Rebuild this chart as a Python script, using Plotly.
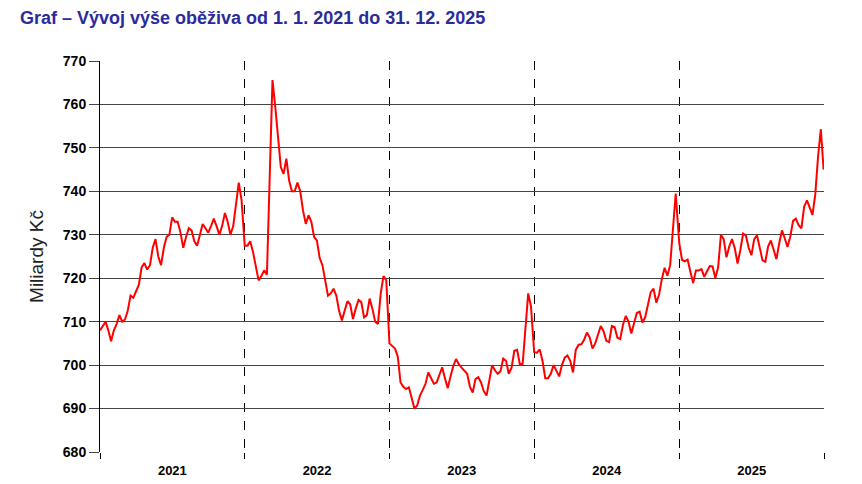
#!/usr/bin/python3
# -*- coding: utf-8 -*-

import pandas as pd
import plotly.graph_objs as go

# weekly readings of currency in circulation (bn CZK), one list per year
years = [2021, 2022, 2023, 2024, 2025]

values_2021 = [708, 709, 710, 708, 705.5, 708, 709.5, 711.5, 710, 710.5, 712.5, 716, 715.5, 717, 718.5, 722.5,
               723.5, 722, 723, 727, 729, 725, 723, 727, 729.5, 730, 734, 733, 733, 730.5, 727, 729.5, 731.5, 731,
               728.5, 727.5, 730, 732.5, 731.5, 730.5, 732, 733.7, 732, 730, 732, 735, 733, 730, 732, 737.5, 742,
               738]
values_2022 = [727.5, 727.5, 728.5, 726, 722.5, 719.5, 720.5, 721.8, 720.8, 742, 765.6, 759.5, 752, 745.6, 744,
               747.5, 742.5, 740, 740, 742, 740, 735.6, 732.5, 734.5, 733, 729.5, 728.7, 724.7, 723, 719.5, 716,
               716.5, 717.6, 716, 712.5, 710.3, 712.8, 714.7, 714, 710.6, 713, 715, 714.5, 711, 711.5, 715.3, 713,
               710, 709.5, 716.5, 720.5, 719.5]
values_2023 = [705, 704.5, 703.8, 702, 696, 695, 694.5, 694.9, 692.3, 690, 690.7, 693, 694.3, 695.7, 698.3, 697,
               695.7, 696, 697.8, 699.5, 697, 694.7, 697.4, 699.8, 701.4, 700.2, 699.4, 698.8, 698, 695, 693.7,
               696.8, 697.2, 696, 694, 693, 696.5, 700, 698.8, 698, 698.6, 701.5, 701, 698, 699.4, 703.3, 703.5,
               700.2, 700.3, 708.5, 716.5, 713.5]
values_2024 = [703, 702.8, 703.6, 701, 697, 697, 698, 700, 698.7, 697.4, 700, 701.7, 702.2, 701, 698.3, 703.5,
               704.7, 704.8, 705.8, 707.5, 706.4, 703.8, 705, 707.2, 709, 707.8, 705.6, 705.3, 709, 708.7, 706.3,
               706, 709.3, 711.3, 710, 707.3, 709.5, 712, 712.3, 709.8, 711, 713.8, 716.8, 717.6, 714.4, 716.2,
               719.8, 722.4, 720.6, 723, 731, 739.5]
values_2025 = [728, 724.2, 723.9, 724.3, 721.5, 718.9, 721.8, 721.8, 722.1, 720.3, 721.6, 722.8, 722.7, 720,
               722.5, 730, 729, 724.8, 727.3, 729, 726.9, 723.4, 726.5, 730.3, 729.8, 727, 725.3, 729, 729.9, 727.2,
               724.1, 723.8, 727.3, 728.7, 726.2, 724.4, 728, 731, 729.2, 727.2, 729.6, 733.2, 733.7, 732.2, 731.5,
               736.5, 737.9, 736.3, 734.6, 739.3, 748, 754.3]
last_day_value = 745  # 31. 12. 2025

title_text = 'Graf – Vývoj výše oběživa od 1. 1. 2021 do 31. 12. 2025'
y_title = 'Miliardy Kč'


def data_preparation():
    """
    :return: dataframe
    """
    frames = []
    for y, vals in zip(years, [values_2021, values_2022, values_2023, values_2024, values_2025]):
        frames.append(pd.DataFrame({'date': pd.date_range('{0}-01-01'.format(y), periods=len(vals), freq='7D'),
                                    'value': vals}))
    frames.append(pd.DataFrame({'date': [pd.Timestamp('2025-12-31')], 'value': [last_day_value]}))
    return pd.concat(frames).reset_index(drop=True)


def creating_line_graph(df):
    """
    :param df: dataframe
    :return: Plotly Line Graph
    """
    fig = go.Figure()
    fig.add_trace(go.Scatter(x=df['date'], y=df['value'], mode='lines',
                             line=dict(color='#FF0000', width=2), showlegend=False))

    # the page body adds 8px around the figure, margins are set with that in mind
    fig.update_layout(
        width=862,
        height=484,
        paper_bgcolor='white',
        plot_bgcolor='white',
        margin=dict(l=92, r=46, t=53, b=40),
        title=dict(text=title_text, x=12 / 862, xref='container', xanchor='left', y=1,
                   yref='container', yanchor='top', pad=dict(t=3),
                   font=dict(family='Liberation Sans, Arial', size=18, color='#2B2B9B', weight='bold')),
        font=dict(family='Liberation Sans, Arial', size=13, color='black'),
        xaxis=dict(
            type='date',
            range=['2021-01-01', '2026-01-01'],
            tick0='2021-01-01',
            dtick='M12',
            tickformat='%Y',
            ticklabelmode='period',
            ticks='outside',
            ticklen=6,
            tickcolor='black',
            showgrid=True,
            gridcolor='black',
            griddash='dash',
            gridwidth=1,
            showline=False,
            zeroline=False,
            tickfont=dict(size=13, weight='bold'),
        ),
        yaxis=dict(
            range=[680, 770],
            dtick=10,
            ticks='outside',
            ticklen=10,
            tickcolor='#444',
            showgrid=True,
            gridcolor='#444',
            gridwidth=1.3,
            showline=True,
            linecolor='black',
            linewidth=1,
            zeroline=False,
            tickfont=dict(size=14, weight='bold'),
            title=dict(text=y_title, font=dict(size=19, color='#222'), standoff=14),
        ),
    )
    return fig


def main():
    df = data_preparation()
    fig = creating_line_graph(df)
    fig.write_html('out.html')


if __name__ == "__main__":
    main()
